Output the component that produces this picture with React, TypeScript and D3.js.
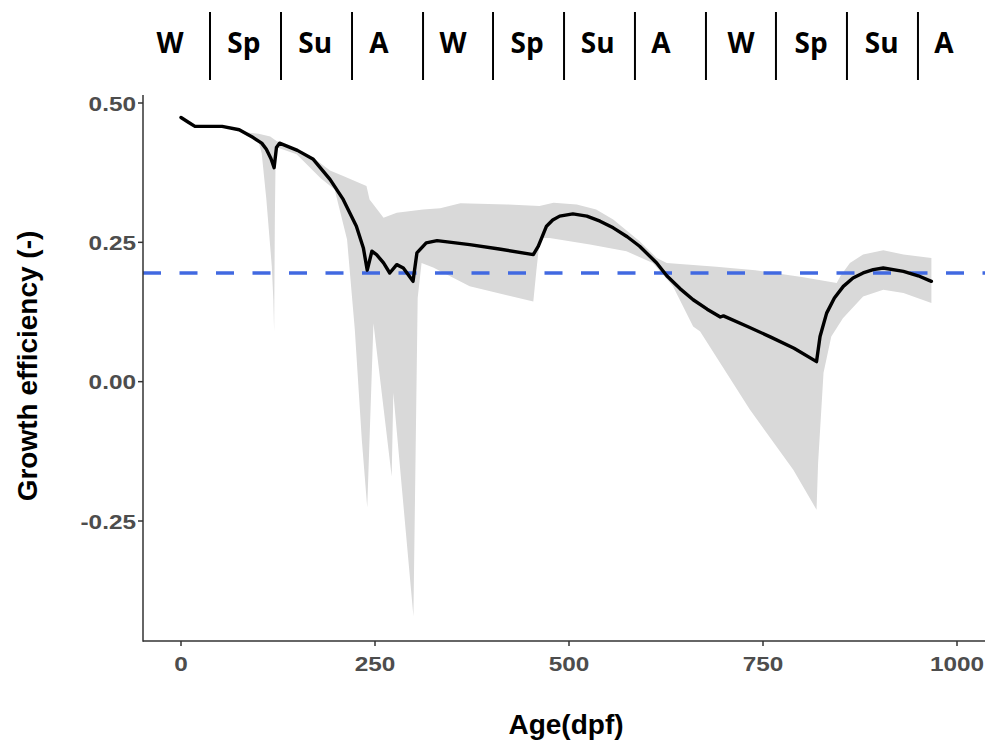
import React from "react";
import * as d3 from "d3";

// ---- data ----
const lineDays = [0, 10, 18, 30, 53, 75, 93, 104, 110, 116, 120, 123, 127, 150, 170.5, 192, 209, 226, 235, 240, 246, 252, 261, 269, 278, 286.5, 299, 304, 316, 330, 372, 410, 454, 460.5, 466, 471, 479, 488, 505, 523, 540, 557, 575, 591, 613, 626, 643, 660, 678, 695, 699, 730, 760, 790, 819, 823.5, 832, 842, 853.5, 866, 879, 892, 905, 931, 950, 967];
const lineVals = [0.474, 0.465, 0.458, 0.458, 0.458, 0.452, 0.438, 0.428, 0.417, 0.4, 0.384, 0.42, 0.428, 0.415, 0.399, 0.363, 0.327, 0.279, 0.24, 0.2, 0.234, 0.228, 0.213, 0.195, 0.21, 0.204, 0.18, 0.231, 0.249, 0.253, 0.246, 0.238, 0.228, 0.243, 0.262, 0.279, 0.29, 0.297, 0.301, 0.297, 0.288, 0.276, 0.26, 0.243, 0.213, 0.19, 0.167, 0.147, 0.13, 0.116, 0.118, 0.099, 0.08, 0.06, 0.036, 0.081, 0.123, 0.15, 0.171, 0.186, 0.195, 0.201, 0.204, 0.198, 0.19, 0.18];

const upperDays = [86, 100, 115, 123, 150, 175, 192, 209, 239, 243, 261, 278, 312, 334, 360, 420, 462, 480, 510, 535, 557, 591, 613, 626, 690, 740, 800, 845, 850, 862, 879, 905, 931, 967];
const upperVals = [0.447, 0.445, 0.44, 0.432, 0.417, 0.397, 0.379, 0.369, 0.351, 0.327, 0.294, 0.303, 0.309, 0.311, 0.32, 0.318, 0.315, 0.321, 0.318, 0.309, 0.291, 0.252, 0.222, 0.213, 0.206, 0.2, 0.188, 0.177, 0.19, 0.213, 0.228, 0.236, 0.228, 0.222];

const lowerDays = [86, 100, 104, 110, 117, 119, 120, 121, 122, 124, 149, 180, 198, 214, 224, 233, 240, 248, 271.5, 273.6, 299.5, 305, 310, 325, 372, 454, 458, 462.6, 475, 527, 574, 608, 634, 660, 669, 733, 789, 819, 821, 828, 838, 853, 879, 905, 931, 967];
const lowerVals = [0.445, 0.43, 0.41, 0.327, 0.207, 0.147, 0.09, 0.3, 0.41, 0.42, 0.408, 0.365, 0.345, 0.255, 0.093, -0.104, -0.226, 0.105, -0.17, -0.02, -0.421, 0.15, 0.213, 0.205, 0.171, 0.144, 0.2, 0.258, 0.258, 0.246, 0.234, 0.213, 0.171, 0.099, 0.09, -0.05, -0.158, -0.23, -0.146, 0.016, 0.081, 0.114, 0.153, 0.165, 0.159, 0.141];

const threshold = 0.195;

const xTicks = [0, 250, 500, 750, 1000];
const xTickLabels = ["0", "250", "500", "750", "1000"];
const yTicks = [-0.25, 0, 0.25, 0.5];
const yTickLabels = ["-0.25", "0.00", "0.25", "0.50"];

const seasonLabels = ["W", "Sp", "Su", "A", "W", "Sp", "Su", "A", "W", "Sp", "Su", "A"];
const seasonLabelDays = [-14, 81, 173, 255, 350.5, 446, 537, 618.5, 721.6, 812, 903, 983];
const seasonBoundaryDays = [37.4, 128.9, 220.4, 311.9, 402.1, 493.6, 585, 676.5, 766.7, 858.2, 949.7];

export default function App() {
  const W = 985, H = 740;
  const left = 143, top = 95, bottom = 641, right = 985;
  const x = d3.scaleLinear().domain([0, 1000]).range([181, 957]);
  const y = d3.scaleLinear().domain([-0.25, 0.5]).range([521, 103]);

  const line = d3.line<number>().x((_, i) => x(lineDays[i])).y((d) => y(d)).curve(d3.curveLinear);
  const linePath = line(lineVals) || "";

  const pts: [number, number][] = [];
  upperDays.forEach((d, i) => pts.push([x(d), y(upperVals[i])]));
  for (let i = lowerDays.length - 1; i >= 0; i--) pts.push([x(lowerDays[i]), y(lowerVals[i])]);
  const ribbonPath = (d3.line()(pts) || "") + "Z";

  const tickFont = "'Liberation Sans', Arial, sans-serif";
  const sx = 1.16;

  return (
    <div style={{ position: "absolute", left: 0, top: 0 }}>
      <svg width={W} height={H} style={{ display: "block", background: "#fff" }}>
        <rect x={0} y={0} width={W} height={H} fill="#fff" />
        {/* season strip */}
        {seasonBoundaryDays.map((d, i) => (
          <line key={"sb" + i} x1={x(d)} x2={x(d)} y1={12} y2={80} stroke="#000" strokeWidth={2} />
        ))}
        {seasonLabels.map((s, i) => (
          <text key={"sl" + i} x={x(seasonLabelDays[i])} y={53} textAnchor="middle"
            fontFamily="'Open Sans', sans-serif" fontWeight="bold" fontSize={28} fill="#000">{s}</text>
        ))}

        {/* ribbon */}
        <path d={ribbonPath} fill="#D9D9D9" stroke="none" />
        {/* threshold */}
        <line x1={left} x2={right} y1={y(threshold)} y2={y(threshold)} stroke="#4169E1" strokeWidth={3.5} strokeDasharray="18 18.5" />
        {/* main line */}
        <path d={linePath} fill="none" stroke="#000" strokeWidth={3.4} strokeLinejoin="round" strokeLinecap="round" />

        {/* axes */}
        <line x1={left} x2={left} y1={top} y2={bottom + 0.75} stroke="#333" strokeWidth={1.5} />
        <line x1={left} x2={right} y1={bottom} y2={bottom} stroke="#333" strokeWidth={1.5} />
        {yTicks.map((t, i) => (
          <g key={"yt" + i}>
            <line x1={left - 5} x2={left} y1={y(t)} y2={y(t)} stroke="#333" strokeWidth={1.5} />
            <text transform={`translate(${left - 7}, ${y(t)}) scale(${sx},1)`} dy="0.36em" textAnchor="end" fontFamily={tickFont} fontWeight="bold" fontSize={21} fill="#4D4D4D">{yTickLabels[i]}</text>
          </g>
        ))}
        {xTicks.map((t, i) => (
          <g key={"xt" + i}>
            <line x1={x(t)} x2={x(t)} y1={bottom} y2={bottom + 5} stroke="#333" strokeWidth={1.5} />
            <text transform={`translate(${x(t)}, 671) scale(${sx},1)`} textAnchor="middle" fontFamily={tickFont} fontWeight="bold" fontSize={21} fill="#4D4D4D">{xTickLabels[i]}</text>
          </g>
        ))}
        <text x={566} y={734} textAnchor="middle" fontFamily={tickFont} fontWeight="bold" fontSize={28} fill="#000">Age(dpf)</text>
        <text transform={`translate(37, 366) rotate(-90)`} textAnchor="middle" fontFamily={tickFont} fontWeight="bold" fontSize={28} fill="#000">Growth efficiency (-)</text>
      </svg>
    </div>
  );
}
